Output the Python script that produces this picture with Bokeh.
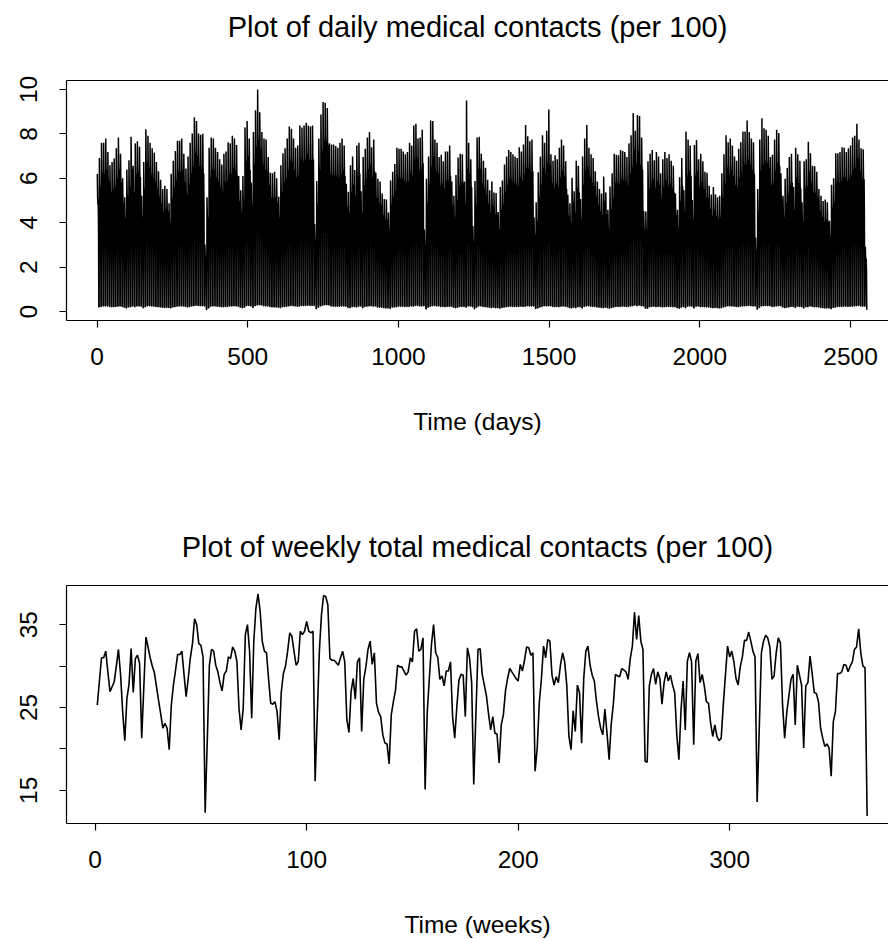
import numpy as np
from bokeh.plotting import figure
from bokeh.models import Range1d, FixedTicker, LinearAxis
from bokeh.layouts import column
from bokeh.embed import file_html
from bokeh.resources import INLINE

# ---------------- data ----------------
# weekly total medical contacts (per 100), weeks 1..365
weekly_totals = [
    25.3, 28.2, 31.0, 31.0, 31.8, 29.3, 26.9, 27.5, 28.1, 30.0,
    32.0, 29.0, 24.5, 21.0, 26.1, 27.8, 32.1, 26.8, 30.9, 31.3,
    30.3, 21.3, 27.5, 33.5, 32.3, 31.0, 30.0, 29.2, 27.5, 25.8,
    24.2, 22.5, 23.1, 22.5, 19.9, 25.3, 27.7, 29.5, 31.4, 31.4,
    31.8, 29.0, 26.3, 28.5, 31.0, 32.7, 35.7, 35.0, 32.7, 32.5,
    31.1, 12.3, 21.0, 30.1, 32.0, 31.8, 30.1, 29.3, 28.0, 27.0,
    29.0, 29.4, 31.1, 30.9, 32.3, 31.8, 30.6, 24.9, 22.3, 24.9,
    33.8, 35.0, 31.8, 23.7, 33.0, 37.0, 38.7, 36.6, 33.0, 31.8,
    31.6, 28.4, 25.5, 25.4, 25.7, 24.5, 21.1, 26.9, 29.1, 30.0,
    31.8, 34.0, 33.6, 31.8, 30.1, 30.5, 34.2, 33.8, 34.2, 35.4,
    34.2, 34.0, 34.2, 16.1, 24.0, 31.8, 36.2, 38.5, 38.4, 37.4,
    30.9, 30.7, 30.7, 30.4, 30.1, 31.0, 31.8, 30.5, 23.5, 22.0,
    26.9, 28.5, 26.0, 30.5, 31.0, 22.1, 28.4, 29.9, 32.0, 33.0,
    30.2, 31.6, 25.5, 24.4, 23.9, 21.7, 20.7, 20.6, 18.2, 24.1,
    25.7, 27.1, 30.1, 29.9, 29.9, 29.4, 28.9, 29.3, 31.0, 30.5,
    34.2, 34.5, 31.8, 32.0, 33.4, 15.1, 24.4, 28.5, 32.6, 35.0,
    31.6, 31.0, 28.4, 28.8, 27.6, 29.4, 29.4, 30.5, 23.9, 21.3,
    25.1, 28.3, 29.0, 28.9, 23.9, 32.2, 31.0, 28.0, 15.7, 24.0,
    32.0, 32.1, 29.0, 27.7, 26.4, 24.2, 22.3, 23.9, 21.9, 21.8,
    18.3, 22.9, 24.1, 27.0, 28.5, 29.7, 29.3, 28.9, 28.5, 28.2,
    30.2, 29.4, 30.7, 32.3, 32.2, 31.3, 31.6, 17.3, 20.1, 25.6,
    28.5, 32.4, 31.0, 33.2, 33.0, 28.9, 27.7, 28.7, 28.0, 30.1,
    31.6, 30.5, 27.6, 21.5, 19.9, 24.6, 22.1, 27.7, 26.8, 20.7,
    28.5, 31.8, 32.4, 30.1, 28.9, 28.2, 25.8, 23.9, 22.5, 21.7,
    24.8, 21.9, 18.7, 23.0, 25.4, 29.0, 28.8, 28.7, 29.7, 29.5,
    29.3, 28.4, 30.9, 32.4, 36.5, 33.2, 36.1, 33.0, 32.0, 18.5,
    18.4, 27.6, 29.0, 29.7, 27.8, 29.3, 28.5, 25.4, 28.0, 29.3,
    28.2, 28.9, 27.7, 26.8, 21.7, 18.7, 24.7, 28.2, 22.3, 30.6,
    31.6, 30.5, 20.5, 30.6, 31.5, 28.0, 29.0, 27.6, 25.7, 25.5,
    23.1, 21.5, 22.9, 21.5, 21.0, 21.3, 25.4, 28.9, 32.4, 31.1,
    31.8, 30.5, 28.5, 27.7, 29.9, 31.1, 33.1, 33.1, 34.1, 33.0,
    31.8, 31.1, 13.6, 22.5, 31.6, 33.0, 33.7, 33.4, 32.3, 28.4,
    28.8, 31.6, 33.4, 32.8, 25.4, 21.3, 24.4, 26.4, 28.4, 29.0,
    22.9, 30.1, 28.9, 27.7, 20.1, 27.6, 28.0, 31.2, 29.1, 26.8,
    26.7, 25.7, 22.5, 21.3, 20.3, 20.6, 20.1, 16.7, 23.3, 24.5,
    29.1, 29.1, 29.3, 30.2, 30.1, 29.3, 30.0, 30.5, 32.0, 32.3,
    34.5, 31.6, 30.0, 29.8, 11.9,
]

# share of a week's total falling on each day of the week
day_of_week_share = [0.245, 0.205, 0.19, 0.20, 0.15, 0.008, 0.008]

# isolated daily peaks (day number, value)
spike_days = [351, 533, 694, 757, 1107, 1226, 1422, 1499, 1625, 1800, 1954, 2157, 2206]
spike_values = [8.0, 10.0, 8.5, 9.4, 8.6, 9.5, 8.4, 9.1, 8.4, 8.8, 8.1, 8.6, 8.7]

x_ticks_daily = [0, 500, 1000, 1500, 2000, 2500]
y_ticks_daily = [0, 2, 4, 6, 8, 10]
x_ticks_weekly = [0, 100, 200, 300]
y_ticks_weekly = [15, 20, 25, 30, 35]
y_labels_weekly = {15: "15", 20: "", 25: "25", 30: "", 35: "35"}

weeks = np.arange(1, len(weekly_totals) + 1)
daily = (np.array(weekly_totals)[:, None] * np.array(day_of_week_share)[None, :]).ravel()
for d, v in zip(spike_days, spike_values):
    daily[d - 1] = v
days = np.arange(1, len(daily) + 1)

# ---------------- styling ----------------
FONT = "Liberation Sans"
TICK_SIZE = "24.5px"
TITLE_SIZE = "29px"
LW_BOX = 1.2


def style_axis(ax):
    ax.axis_line_color = "black"
    ax.axis_line_width = LW_BOX
    ax.major_tick_line_color = "black"
    ax.major_tick_line_width = LW_BOX
    ax.major_tick_in = 0
    ax.major_tick_out = 7
    ax.minor_tick_line_color = None
    ax.major_label_text_font = FONT
    ax.major_label_text_font_size = TICK_SIZE
    ax.major_label_text_color = "black"
    ax.axis_label_text_font = FONT
    ax.axis_label_text_font_size = TICK_SIZE
    ax.axis_label_text_font_style = "normal"
    ax.axis_label_text_color = "black"


def make_panel(xr, yr, border_top, border_bottom, title, title_standoff,
               xticks, yticks, xlabel, ylabel_overrides=None):
    p = figure(width=888, height=470, x_range=xr, y_range=yr,
               output_backend="svg", toolbar_location=None,
               min_border_left=66, min_border_right=0,
               min_border_top=border_top, min_border_bottom=border_bottom,
               outline_line_color=None, background_fill_color="white",
               border_fill_color="white")
    p.grid.visible = False

    xa = p.xaxis[0]
    style_axis(xa)
    xa.ticker = FixedTicker(ticks=xticks)
    xa.major_label_standoff = 20
    xa.axis_label = xlabel
    xa.axis_label_standoff = 40

    ya = p.yaxis[0]
    style_axis(ya)
    ya.ticker = FixedTicker(ticks=yticks)
    ya.major_label_orientation = "vertical"
    ya.major_label_standoff = 22
    if ylabel_overrides:
        ya.major_label_overrides = ylabel_overrides

    top = LinearAxis(ticker=FixedTicker(ticks=[]))
    style_axis(top)
    top.major_tick_out = 0
    top.major_label_standoff = 0
    top.axis_label = title
    top.axis_label_text_font_size = TITLE_SIZE
    top.axis_label_standoff = title_standoff
    p.add_layout(top, "above")
    return p


p1 = make_panel(Range1d(-101.2, 2626), Range1d(-0.4, 10.4), 80, 150,
                "Plot of daily medical contacts (per 100)", 38,
                x_ticks_daily, y_ticks_daily, "Time (days)")
p1.line(days, daily, line_color="black", line_width=1.5)

p2 = make_panel(Range1d(-13.56, 375.1), Range1d(11.0, 39.72), 115, 117,
                "Plot of weekly total medical contacts (per 100)", 23,
                x_ticks_weekly, y_ticks_weekly, "Time (weeks)", y_labels_weekly)
p2.line(weeks, weekly_totals, line_color="black", line_width=1.6)

layout = column(p1, p2, spacing=0)
open("out.html", "w").write(file_html(layout, INLINE))
